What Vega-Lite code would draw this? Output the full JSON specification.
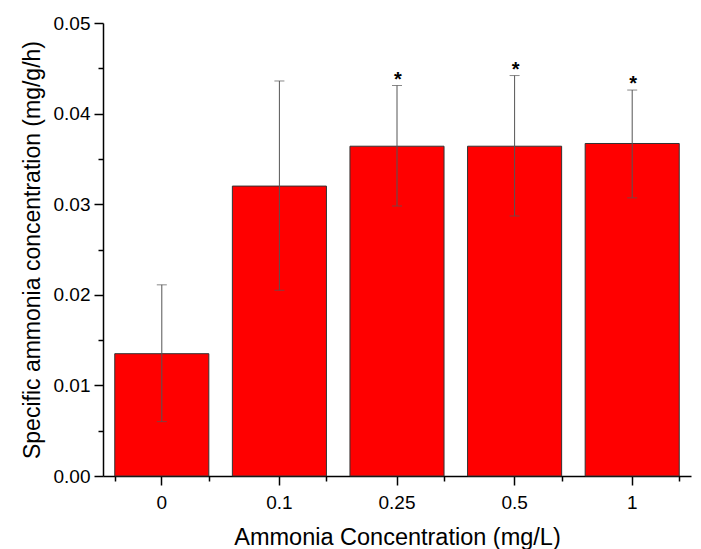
{
  "$schema": "https://vega.github.io/schema/vega-lite/v6.json",
  "width": 588,
  "height": 453,
  "autosize": "none",
  "padding": {"left": 103, "top": 23, "right": 10, "bottom": 73},
  "config": {
    "font": "Liberation Sans",
    "view": {"stroke": null},
    "axis": {
      "grid": false,
      "domainColor": "black",
      "tickColor": "black",
      "labelColor": "black",
      "titleColor": "black",
      "labelFont": "Liberation Sans",
      "titleFont": "Liberation Sans",
      "titleFontWeight": "normal"
    }
  },
  "data": {
    "values": [
      {"conc": "0", "mean": 0.0135, "lo": 0.0060, "hi": 0.0211, "sig": ""},
      {"conc": "0.1", "mean": 0.0320, "lo": 0.0205, "hi": 0.0436, "sig": ""},
      {"conc": "0.25", "mean": 0.0364, "lo": 0.0298, "hi": 0.0431, "sig": "*"},
      {"conc": "0.5", "mean": 0.0364, "lo": 0.0287, "hi": 0.0442, "sig": "*"},
      {"conc": "1", "mean": 0.0367, "lo": 0.0307, "hi": 0.0426, "sig": "*"}
    ]
  },
  "layer": [
    {
      "mark": {"type": "bar", "color": "#ff0000", "stroke": "#333333", "strokeWidth": 1},
      "encoding": {
        "x": {
          "field": "conc", "type": "nominal", "sort": null,
          "scale": {"paddingInner": 0.2, "paddingOuter": 0.1},
          "axis": {
            "orient": "bottom", "labelAngle": 0, "title": "Ammonia Concentration (mg/L)",
            "tickSize": 9, "tickWidth": 1.5, "domainWidth": 1.5,
            "labelFontSize": 19, "labelPadding": 8, "titleFontSize": 23.5, "titlePadding": 13
          }
        },
        "y": {
          "field": "mean", "type": "quantitative",
          "scale": {"domain": [0, 0.05]},
          "axis": {
            "orient": "left", "values": [0, 0.01, 0.02, 0.03, 0.04, 0.05], "format": ".2f",
            "title": "Specific ammonia concentration (mg/g/h)",
            "tickSize": 9, "tickWidth": 1.5, "domainWidth": 1.5,
            "labelFontSize": 19, "labelPadding": 4, "titleFontSize": 23, "titlePadding": 9
          }
        }
      }
    },
    {
      "mark": {"type": "rule", "color": "#555555", "strokeWidth": 1},
      "encoding": {
        "x": {
          "field": "conc", "type": "nominal", "sort": null,
          "axis": {"orient": "bottom", "tickBand": "extent", "labels": false, "domain": false, "title": null, "tickSize": 5, "tickWidth": 1.5}
        },
        "y": {
          "field": "lo", "type": "quantitative",
          "axis": {"orient": "left", "values": [0.005, 0.015, 0.025, 0.035, 0.045], "labels": false, "domain": false, "title": null, "tickSize": 5, "tickWidth": 1.5}
        },
        "y2": {"field": "hi"}
      }
    },
    {
      "mark": {"type": "tick", "color": "#555555", "thickness": 1, "size": 10, "orient": "horizontal"},
      "encoding": {
        "x": {"field": "conc", "type": "nominal", "sort": null, "axis": null},
        "y": {"field": "lo", "type": "quantitative", "axis": null}
      }
    },
    {
      "mark": {"type": "tick", "color": "#555555", "thickness": 1, "size": 10, "orient": "horizontal"},
      "encoding": {
        "x": {"field": "conc", "type": "nominal", "sort": null, "axis": null},
        "y": {"field": "hi", "type": "quantitative", "axis": null}
      }
    },
    {
      "mark": {"type": "text", "fontSize": 20, "fontWeight": "bold", "baseline": "alphabetic", "dx": 1, "color": "black"},
      "encoding": {
        "x": {"field": "conc", "type": "nominal", "sort": null, "axis": null},
        "y": {"field": "hi", "type": "quantitative", "axis": null},
        "text": {"field": "sig"}
      }
    }
  ],
  "resolve": {"axis": {"x": "independent", "y": "independent"}}
}
